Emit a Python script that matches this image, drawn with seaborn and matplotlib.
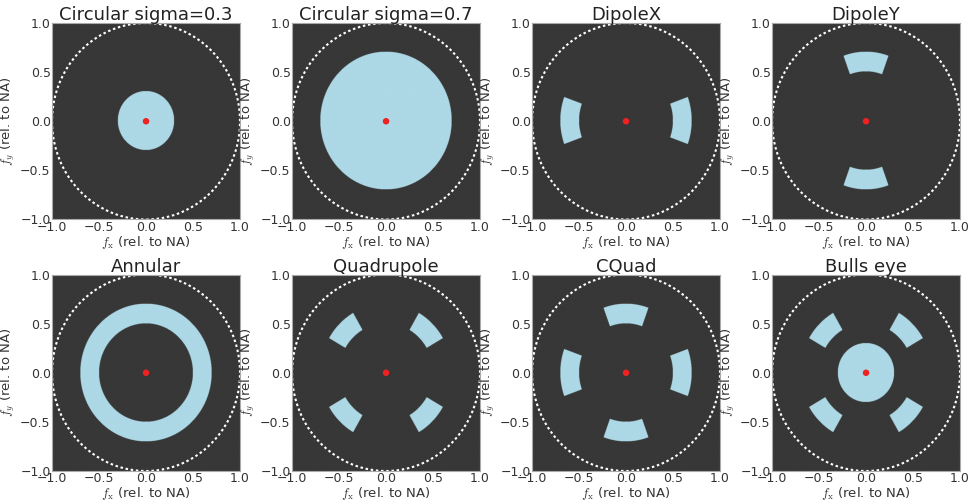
import numpy as np
import matplotlib
matplotlib.use("Agg")
import matplotlib.pyplot as plt
import seaborn as sns
from matplotlib.colors import ListedColormap

# source shapes (pupil coordinates relative to NA)
titles = ["Circular sigma=0.3", "Circular sigma=0.7", "DipoleX", "DipoleY",
          "Annular", "Quadrupole", "CQuad", "Bulls eye"]
disk_radius = [0.3, 0.7, 0.0, 0.0, 0.0, 0.0, 0.0, 0.3]
ring_inner = [0.0, 0.0, 0.0, 0.0, 0.5, 0.0, 0.0, 0.0]
ring_outer = [0.0, 0.0, 0.0, 0.0, 0.7, 0.0, 0.0, 0.0]
pole_angles = [[], [], [0, 180], [90, 270], [],
               [45, 135, 225, 315], [0, 90, 180, 270], [45, 135, 225, 315]]
pole_half_width = [0, 0, 20, 20, 0, 15, 20, 15]  # degrees
pole_r_in = 0.5
pole_r_out = 0.7
ticks = [-1.0, -0.5, 0.0, 0.5, 1.0]

bg = "#373737"
fill = "#add8e6"

sns.set_theme(style="white")
plt.rcParams["mathtext.fontset"] = "cm"
plt.rcParams["font.family"] = ["DejaVu Sans"]

n = 801
g = np.linspace(-1, 1, n)
fx, fy = np.meshgrid(g, g)
r = np.hypot(fx, fy)
th = np.degrees(np.arctan2(fy, fx))

circ_t = np.linspace(0, 2 * np.pi, 400)

fig, axes = plt.subplots(2, 4, figsize=(9.71, 5.03), dpi=100)
plt.subplots_adjust(left=0.0536, right=0.9887, bottom=0.0636, top=0.9543,
                    wspace=0.277, hspace=0.28)

for i, ax in enumerate(axes.flat):
    mask = r <= disk_radius[i]
    mask |= (r >= ring_inner[i]) & (r <= ring_outer[i]) & (ring_outer[i] > 0)
    for a in pole_angles[i]:
        d = (th - a + 180) % 360 - 180
        mask |= (r >= pole_r_in) & (r <= pole_r_out) & (np.abs(d) <= pole_half_width[i])
    ax.imshow(mask.astype(float), extent=[-1, 1, -1, 1], origin="lower",
              cmap=ListedColormap([bg, fill]), vmin=0, vmax=1,
              aspect="auto", interpolation="antialiased")
    sns.lineplot(x=np.cos(circ_t), y=np.sin(circ_t), sort=False, estimator=None,
                 ax=ax, color="white", lw=1.5, linestyle=(0, (1.2, 1.3)))
    sns.scatterplot(x=[0.0], y=[0.0], ax=ax, color="#ee2222", s=22,
                    edgecolor="none", zorder=5)
    ax.set_xlim(-1, 1)
    ax.set_ylim(-1, 1)
    ax.set_xticks(ticks)
    ax.set_yticks(ticks)
    ax.set_xticklabels([f"{t:.1f}".replace("-", "\u2212") for t in ticks])
    ax.set_yticklabels([f"{t:.1f}".replace("-", "\u2212") for t in ticks])
    ax.tick_params(labelsize=9, colors="#333333", pad=1, length=0)
    ax.set_title(titles[i], fontsize=13, color="#222222", pad=2)
    ax.set_xlabel(r"$f_\mathrm{x}$ (rel. to NA)", fontsize=9.5, color="#333333", labelpad=0)
    ax.set_ylabel(r"$f_y$ (rel. to NA)", fontsize=9.5, color="#333333", labelpad=2)
    for s in ax.spines.values():
        s.set_color("#aaaaaa")
        s.set_linewidth(0.8)

fig.savefig("out.png", dpi=100)
